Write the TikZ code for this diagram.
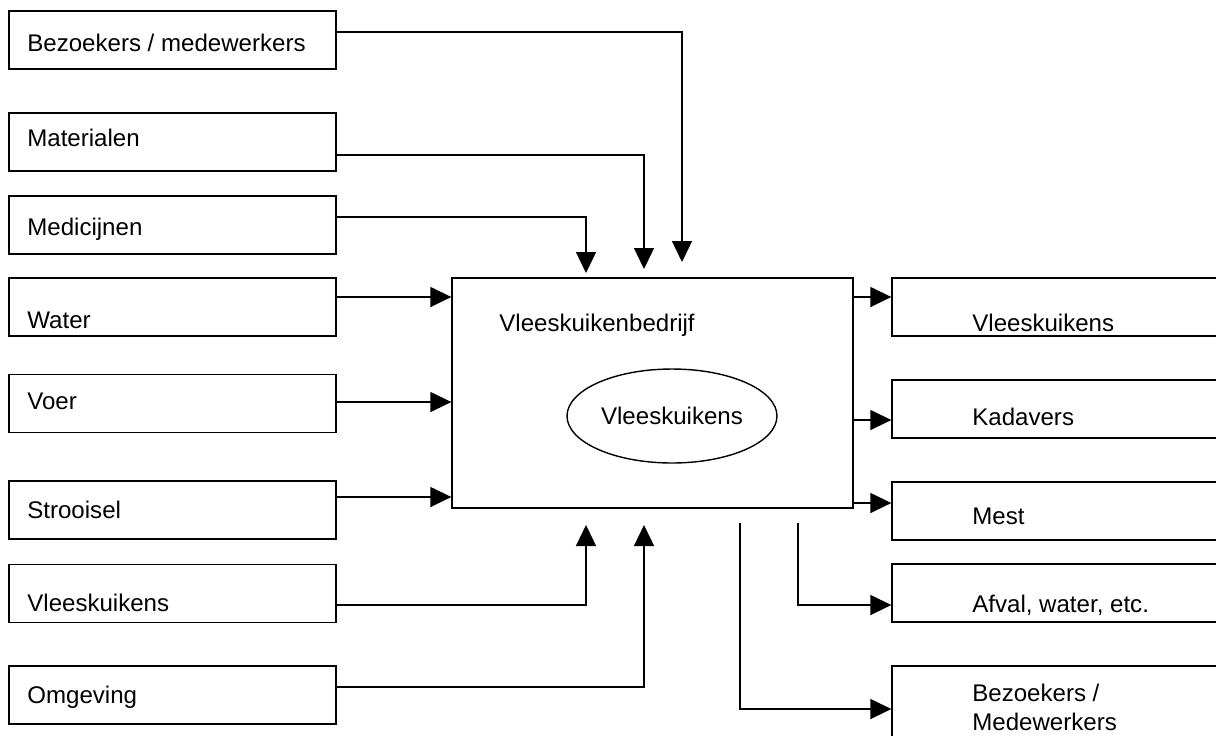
\documentclass[tikz,border=0pt]{standalone}
\usepackage{fontspec}
\setmainfont{Liberation Sans}
\usetikzlibrary{arrows.meta,shapes.geometric}
\tikzset{
  blok/.style={draw, line width=0.8pt, minimum width=6.54cm, minimum height=1.16cm, inner sep=0pt},
  uitblok/.style={draw, line width=0.8pt, minimum width=7.16cm, minimum height=1.16cm, inner sep=0pt},
  tekst/.style={anchor=west, inner sep=0pt, align=left, font=\fontsize{13.7}{16.5}\selectfont},
  pijl/.style={-{Triangle[length=0.42cm,width=0.4cm]}, line width=0.8pt},
  lijn/.style={line width=0.8pt}
}
\begin{document}
\begin{tikzpicture}[x=0.02cm, y=-0.02cm]
    \useasboundingbox (0,0) rectangle (1216,735);
    \clip (0,0) rectangle (1216,735);
    % ingaande stromen
    \node[blok] (bez) at (172.5,40) {};
    \node[blok] (mat) at (172.5,142) {};
    \node[blok] (med) at (172.5,225) {};
    \node[blok] (water) at (172.5,307) {};
    \node[blok] (voer) at (172.5,403.5) {};
    \node[blok] (stro) at (172.5,510) {};
    \node[blok] (vkin) at (172.5,593.5) {};
    \node[blok] (omg) at (172.5,695) {};
    \node[tekst] (tbez) at (27,43) {Bezoekers / medewerkers};
    \node[tekst] (tmat) at (27,138) {Materialen};
    \node[tekst] (tmed) at (27,229) {Medicijnen};
    \node[tekst] (twater) at (27,320) {Water};
    \node[tekst] (tvoer) at (27,401) {Voer};
    \node[tekst] (tstro) at (27,510) {Strooisel};
    \node[tekst] (tvkin) at (27,603) {Vleeskuikens};
    \node[tekst] (tomg) at (27,697) {Omgeving};
    % bedrijf
    \node[draw, line width=0.8pt, minimum width=8.02cm, minimum height=4.6cm, inner sep=0pt] (bedrijf) at (652.5,393) {};
    \node[tekst] (tbedrijf) at (499,325) {Vleeskuikenbedrijf};
    \node[draw, ellipse, line width=0.8pt, minimum width=4.2cm, minimum height=1.88cm, inner sep=0pt,
          font=\fontsize{13.7}{17}\selectfont] (dier) at (672,416) {Vleeskuikens};
    % uitgaande stromen
    \node[uitblok] (vkuit) at (1071,307) {};
    \node[uitblok] (kad) at (1071,409) {};
    \node[uitblok] (mest) at (1071,511) {};
    \node[uitblok] (afval) at (1071,593) {};
    \node[uitblok, minimum height=2.08cm] (bezuit) at (1071,718) {};
    \node[tekst] (tvkuit) at (972,323) {Vleeskuikens};
    \node[tekst] (tkad) at (972,417) {Kadavers};
    \node[tekst] (tmest) at (972,516) {Mest};
    \node[tekst] (tafval) at (972,605) {Afval, water, etc.};
    \node[tekst] (tbezuit) at (972,707) {Bezoekers /\\Medewerkers};
    % aanvoer van boven
    \coordinate (k1) at (682,262);
    \coordinate (k2) at (644,269);
    \coordinate (k3) at (586,273);
    \draw[pijl] (bez.east |- 0,32) -| (k1);
    \draw[pijl] (mat.east |- 0,155) -| (k2);
    \draw[pijl] (med.east |- 0,217) -| (k3);
    % aanvoer van links
    \draw[pijl] (water.east |- 0,297) -- (bedrijf.west |- 0,297);
    \draw[pijl] (voer.east |- 0,402) -- (bedrijf.west |- 0,402);
    \draw[pijl] (stro.east |- 0,497) -- (bedrijf.west |- 0,497);
    % aanvoer van onder
    \coordinate (k4) at (586,525);
    \coordinate (k5) at (644,525);
    \draw[pijl] (vkin.east |- 0,605) -| (k4);
    \draw[pijl] (omg.east |- 0,687) -| (k5);
    % afvoer
    \draw[pijl] (bedrijf.east |- 0,297) -- (vkuit.west |- 0,297);
    \draw[pijl] (bedrijf.east |- 0,420) -- (kad.west |- 0,420);
    \draw[pijl] (bedrijf.east |- 0,503) -- (mest.west |- 0,503);
    \coordinate (u1) at (798,523);
    \coordinate (u2) at (740,523);
    \draw[pijl] (u1) |- (afval.west |- 0,605);
    \draw[pijl] (u2) |- (bezuit.west |- 0,709);
\end{tikzpicture}
\end{document}
